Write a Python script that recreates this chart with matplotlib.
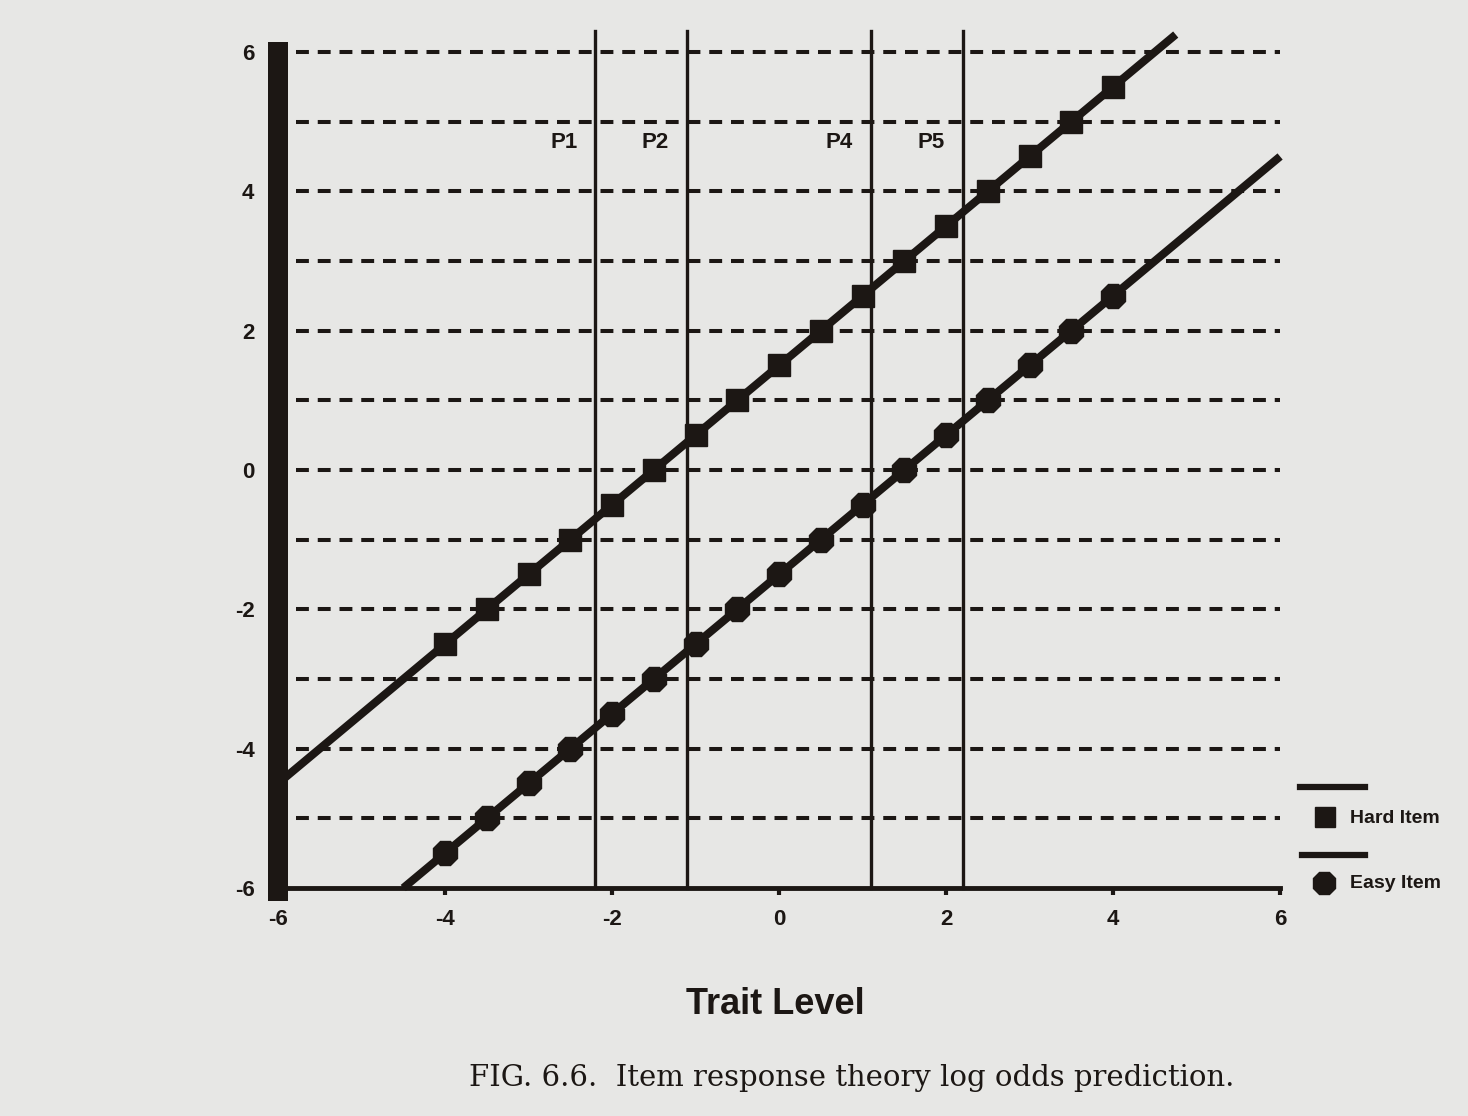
import matplotlib
matplotlib.use("Agg")
import matplotlib.pyplot as plt
from matplotlib.lines import Line2D

plt.rcParams['axes.unicode_minus'] = False

# ---- data ----
theta_markers = [-4.0, -3.5, -3.0, -2.5, -2.0, -1.5, -1.0, -0.5, 0.0,
                 0.5, 1.0, 1.5, 2.0, 2.5, 3.0, 3.5, 4.0]
hard_log_odds = [-2.5, -2.0, -1.5, -1.0, -0.5, 0.0, 0.5, 1.0, 1.5,
                 2.0, 2.5, 3.0, 3.5, 4.0, 4.5, 5.0, 5.5]
easy_log_odds = [-5.5, -5.0, -4.5, -4.0, -3.5, -3.0, -2.5, -2.0, -1.5,
                 -1.0, -0.5, 0.0, 0.5, 1.0, 1.5, 2.0, 2.5]
hard_line_theta = [-6.0, 4.75]
hard_line_odds = [-4.5, 6.25]
easy_line_theta = [-4.5, 6.0]
easy_line_odds = [-6.0, 4.5]
grid_levels = [6, 5, 4, 3, 2, 1, 0, -1, -2, -3, -4, -5]
person_names = ['P1', 'P2', 'P4', 'P5']
person_theta = [-2.2, -1.1, 1.1, 2.2]
x_ticks = [-6, -4, -2, 0, 2, 4, 6]
y_ticks = [-6, -4, -2, 0, 2, 4, 6]

INK = '#1c1714'
PAPER = '#e7e7e5'
SANS = 'Liberation Sans'

fig = plt.figure(figsize=(14.68, 11.16), dpi=100, facecolor=PAPER)
ax = fig.add_axes([0.1894, 0.2043, 0.6826, 0.7741])
ax.set_facecolor('none')
ax.set_xlim(-6, 6)
ax.set_ylim(-6, 6.4)

# dashed horizontal reference lines
for lv in grid_levels:
    ax.plot([-5.78, 6.0], [lv, lv], color=INK, lw=2.9,
            linestyle=(0, (3.2, 2.2)), dash_capstyle='butt', zorder=1)

# person vertical lines
for name, px in zip(person_names, person_theta):
    ax.plot([px, px], [-6, 6.3], color=INK, lw=2.4, zorder=2, clip_on=False)
    ax.text(px - 0.38, 4.7, name, ha='center', va='center',
            fontsize=16, fontweight='bold', family=SANS, color=INK)

# regression lines
ax.plot(hard_line_theta, hard_line_odds, color=INK, lw=5.8,
        solid_capstyle='butt', zorder=3, clip_on=False)
ax.plot(easy_line_theta, easy_line_odds, color=INK, lw=5.8,
        solid_capstyle='butt', zorder=3, clip_on=False)

# markers
ax.plot(theta_markers, hard_log_odds, linestyle='none', marker='s',
        ms=16, color=INK, zorder=4, clip_on=False)
ax.plot(theta_markers, easy_log_odds, linestyle='none', marker='8',
        ms=19, color=INK, zorder=4, clip_on=False)

# axes styling
for s in ['top', 'right']:
    ax.spines[s].set_visible(False)
ax.spines['left'].set_linewidth(14.4)
ax.spines['left'].set_color(INK)
ax.spines['left'].set_bounds(-6.05, 6)
ax.spines['left'].set_zorder(5)
ax.spines['bottom'].set_linewidth(3.5)
ax.spines['bottom'].set_color(INK)

ax.set_xticks(x_ticks)
ax.set_yticks(y_ticks)
ax.set_xticklabels([str(v) for v in x_ticks])
ax.set_yticklabels([str(v) for v in y_ticks])
ax.tick_params(axis='x', direction='out', length=5, width=3, color=INK,
               pad=10, labelsize=16, labelcolor=INK)
ax.tick_params(axis='y', length=0, pad=17, labelsize=16, labelcolor=INK)
for lab in ax.get_xticklabels() + ax.get_yticklabels():
    lab.set_fontweight('bold')
    lab.set_family(SANS)

# axis title and caption
fig.text(0.528, 0.0995, 'Trait Level', ha='center', va='center',
         fontsize=26, fontweight='bold', family=SANS, color=INK)
fig.text(0.58, 0.034, 'FIG. 6.6.  Item response theory log odds prediction.',
         ha='center', va='center', fontsize=21, family='DejaVu Serif',
         color=INK)

# custom legend
fig.add_artist(Line2D([0.8856, 0.9298], [0.2948, 0.2948], color=INK, lw=4.5,
                      transform=fig.transFigure))
fig.add_artist(Line2D([0.9026], [0.2679], marker='s', ms=14, color=INK,
                      linestyle='none', transform=fig.transFigure))
fig.text(0.9196, 0.2670, 'Hard Item', ha='left', va='center', fontsize=14,
         fontweight='bold', family=SANS, color=INK)
fig.add_artist(Line2D([0.8870, 0.9298], [0.2339, 0.2339], color=INK, lw=4.5,
                      transform=fig.transFigure))
fig.add_artist(Line2D([0.9019], [0.2088], marker='8', ms=17, color=INK,
                      linestyle='none', transform=fig.transFigure))
fig.text(0.9196, 0.2079, 'Easy Item', ha='left', va='center', fontsize=14,
         fontweight='bold', family=SANS, color=INK)

fig.savefig('out.png', dpi=100, facecolor=PAPER)
